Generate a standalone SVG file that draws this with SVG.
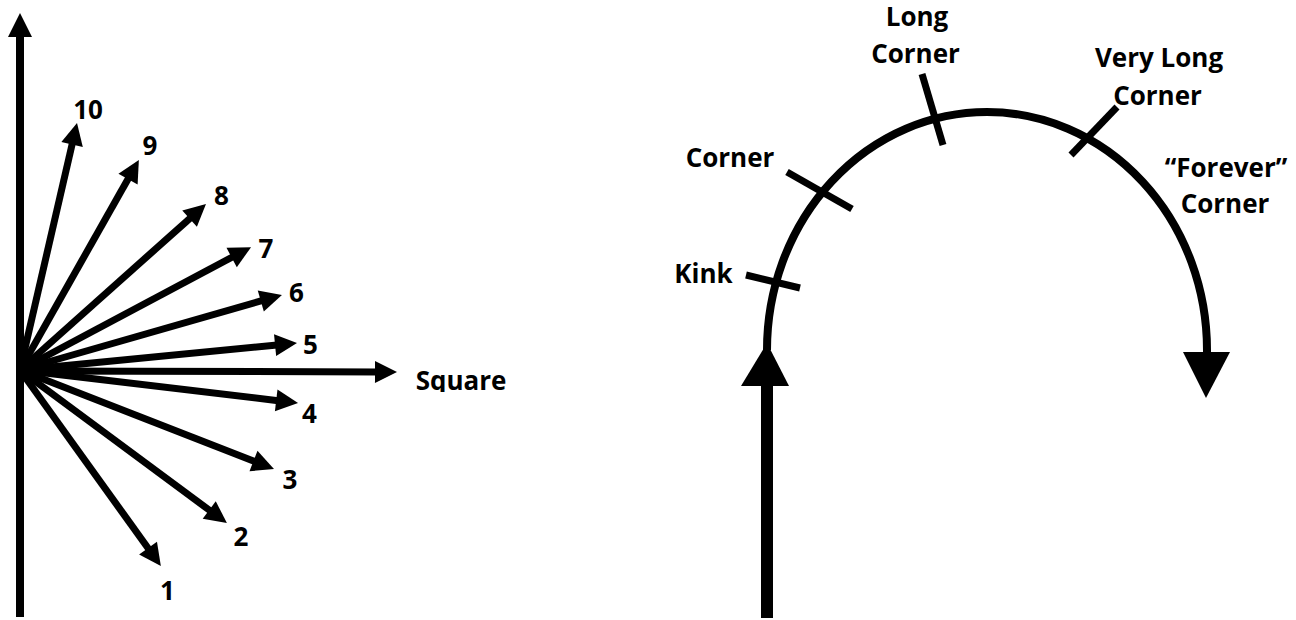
<svg xmlns="http://www.w3.org/2000/svg" width="1296" height="620" viewBox="0 0 1296 620">
<style>
.lbl{font-family:"Open Sans","Liberation Sans",Arial,sans-serif;font-weight:700;font-size:26px;fill:#000;text-anchor:middle}
.fan{stroke:#000;stroke-width:7;fill:none}
.tick{stroke:#000;stroke-width:7;fill:none}
.head{fill:#000;stroke:none}
</style>
<defs>
<clipPath id="sqclip"><rect x="400" y="340" width="140" height="52"/></clipPath>
</defs>
<rect width="1296" height="620" fill="#fff"/>
<g id="connectors">
  <g id="axis">
    <line x1="20" y1="617" x2="20" y2="35" stroke="#000" stroke-width="8"/>
    <polygon class="head" points="8,37 32,37 20,13"/>
  </g>
  <g id="fan">
    <g transform="translate(20,370) rotate(-77)"><line class="fan" x1="0" y1="0" x2="233.5" y2="0"/><polygon class="head" points="231.5,-11 253.5,0 231.5,11"/></g>
    <g transform="translate(20,370) rotate(-60.5)"><line class="fan" x1="0" y1="0" x2="221.4" y2="0"/><polygon class="head" points="219.4,-11 241.4,0 219.4,11"/></g>
    <g transform="translate(20,370) rotate(-41.75)"><line class="fan" x1="0" y1="0" x2="229.3" y2="0"/><polygon class="head" points="227.3,-11 249.3,0 227.3,11"/></g>
    <g transform="translate(20,370) rotate(-28)"><line class="fan" x1="0" y1="0" x2="241.7" y2="0"/><polygon class="head" points="239.7,-11 261.7,0 239.7,11"/></g>
    <g transform="translate(20,370) rotate(-16)"><line class="fan" x1="0" y1="0" x2="252.5" y2="0"/><polygon class="head" points="250.5,-11 272.5,0 250.5,11"/></g>
    <g transform="translate(20,370) rotate(-5.57)"><line class="fan" x1="0" y1="0" x2="258.3" y2="0"/><polygon class="head" points="256.3,-11 278.3,0 256.3,11"/></g>
    <g transform="translate(20,371) rotate(0.15)"><line class="fan" x1="0" y1="0" x2="357" y2="0"/><polygon class="head" points="355,-11 377,0 355,11"/></g>
    <g transform="translate(20,370) rotate(6.77)"><line class="fan" x1="0" y1="0" x2="260" y2="0"/><polygon class="head" points="258,-11 280,0 258,11"/></g>
    <g transform="translate(20,370) rotate(21.3)"><line class="fan" x1="0" y1="0" x2="252.6" y2="0"/><polygon class="head" points="250.6,-11 272.6,0 250.6,11"/></g>
    <g transform="translate(20,370) rotate(36.5)"><line class="fan" x1="0" y1="0" x2="237.4" y2="0"/><polygon class="head" points="235.4,-11 257.4,0 235.4,11"/></g>
    <g transform="translate(20,370) rotate(54.3)"><line class="fan" x1="0" y1="0" x2="221.4" y2="0"/><polygon class="head" points="219.4,-11 241.4,0 219.4,11"/></g>
  </g>
  <g id="path-arc">
    <line x1="767" y1="618" x2="767" y2="384" stroke="#000" stroke-width="12"/>
    <polygon class="head" points="741,386 789,386 767,343"/>
    <path d="M767,350 A220,238 0 0 1 1207,350 L1207,354" fill="none" stroke="#000" stroke-width="8"/>
    <polygon class="head" points="1183,352 1230,352 1206,398"/>
  </g>
  <g id="ticks">
    <line class="tick" x1="746" y1="275" x2="800" y2="288"/>
    <line class="tick" x1="787" y1="172" x2="852" y2="209"/>
    <line class="tick" x1="922" y1="74" x2="943" y2="145"/>
    <line class="tick" x1="1117" y1="107" x2="1071" y2="155"/>
  </g>
</g>
<g id="fan-labels">
  <g id="n10"><text class="lbl" x="88" y="119">10</text></g>
  <g id="n9"><text class="lbl" x="150" y="155">9</text></g>
  <g id="n8"><text class="lbl" x="221.5" y="205">8</text></g>
  <g id="n7"><text class="lbl" x="266" y="258">7</text></g>
  <g id="n6"><text class="lbl" x="296.5" y="302">6</text></g>
  <g id="n5"><text class="lbl" x="310.5" y="354">5</text></g>
  <g id="nsquare"><text class="lbl" x="461" y="390" clip-path="url(#sqclip)">Square</text></g>
  <g id="n4"><text class="lbl" x="309.5" y="423">4</text></g>
  <g id="n3"><text class="lbl" x="290" y="489">3</text></g>
  <g id="n2"><text class="lbl" x="241" y="546">2</text></g>
  <g id="n1"><text class="lbl" x="167.5" y="600">1</text></g>
</g>
<g id="arc-labels">
  <g id="kink"><text class="lbl" x="703.5" y="283">Kink</text></g>
  <g id="corner"><text class="lbl" x="730" y="167">Corner</text></g>
  <g id="long-corner"><text class="lbl" x="917" y="26">Long</text><text class="lbl" x="915.5" y="63">Corner</text></g>
  <g id="very-long-corner"><text class="lbl" x="1159" y="67">Very Long</text><text class="lbl" x="1157.5" y="105">Corner</text></g>
  <g id="forever-corner"><text class="lbl" x="1226" y="177">“Forever”</text><text class="lbl" x="1225" y="213">Corner</text></g>
</g>
</svg>
